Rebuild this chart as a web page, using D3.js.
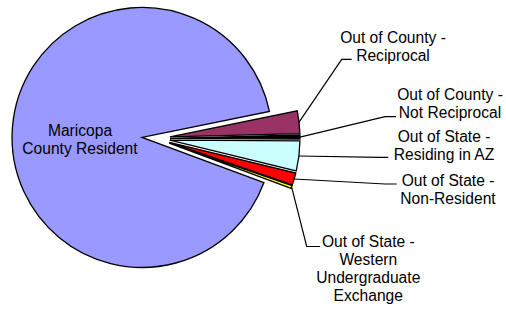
<!DOCTYPE html>
<meta charset="utf-8">
<style>
body{margin:0;background:#fff;}
.slice{stroke:#000;stroke-width:1.3px;}
.leader{fill:none;stroke:#000;stroke-width:1.2px;}
text{font-family:"Liberation Sans",Arial,sans-serif;font-size:15.6px;fill:#000;}
</style>
<body>
<script src="https://d3js.org/d3.v7.min.js"></script>
<script>

// share of enrolment, percent
var categories = [
  'Maricopa County Resident',
  'Out of County - Reciprocal',
  'Out of County - Not Reciprocal',
  'Out of State - Residing in AZ',
  'Out of State - Non-Resident',
  'Out of State - Western Undergraduate Exchange'
];
var values = [91.15, 2.8, 0.5, 3.7, 1.5, 0.35];
var colors = ['#9999FF', '#993366', '#000000', '#CCFFFF', '#FF0000', '#FFFF00'];

// label text lines
var labelLines = [
  ['Maricopa', 'County Resident'],
  ['Out of County -', 'Reciprocal'],
  ['Out of County -', 'Not Reciprocal'],
  ['Out of State -', 'Residing in AZ'],
  ['Out of State -', 'Non-Resident'],
  ['Out of State -', 'Western', 'Undergraduate', 'Exchange']
];

// layout: label centre x, first baseline, leader elbow and end (null = inside label)
var labelPos = [
  {x: 80,  y: 136,   elbow: null},
  {x: 393, y: 42.7,  elbow: [341.7, 59.3], end: [351.7, 59.3]},
  {x: 450, y: 100,   elbow: [385, 116.7],  end: [396, 116.7]},
  {x: 444, y: 142,   elbow: [380, 157.4],  end: [388.3, 157.4]},
  {x: 448, y: 186.3, elbow: [385, 184],    end: [396.7, 184]},
  {x: 368.3, y: 247.3, elbow: [306.7, 246.5], end: [320, 246.5]}
];

var W = 506, H = 309;
var cx = 156, cy = 138.5, R = 130, explode = 14, lineH = 17.8;

var svg = d3.select("body").append("svg").attr("width", W).attr("height", H);
var g = svg.append("g").attr("transform", "translate(" + cx + "," + cy + ")");

var a0 = 110.3 * Math.PI / 180;
var pie = d3.pie().sort(null).startAngle(a0).endAngle(a0 + 2 * Math.PI);
var arc = d3.arc().innerRadius(0).outerRadius(R);

var arcs = pie(values);

function offset(d, r) {
  var m = (d.startAngle + d.endAngle) / 2;
  return [r * Math.sin(m), -r * Math.cos(m)];
}

g.selectAll("path.slice")
  .data(arcs)
  .join("path")
  .attr("class", "slice")
  .attr("fill", (d, i) => colors[i])
  .attr("transform", d => { var o = offset(d, explode); return "translate(" + o[0] + "," + o[1] + ")"; })
  .attr("d", arc);

// leader lines
var line = d3.line();
svg.selectAll("path.leader")
  .data(arcs.filter((d, i) => labelPos[i].elbow))
  .join("path")
  .attr("class", "leader")
  .attr("d", d => {
    var i = d.index, p = labelPos[i];
    var o = offset(d, explode + R);
    return line([[cx + o[0], cy + o[1]], p.elbow, p.end]);
  });

// labels
var lbl = svg.selectAll("text.lbl")
  .data(labelLines)
  .join("text")
  .attr("class", "lbl")
  .attr("text-anchor", "middle");

lbl.selectAll("tspan")
  .data((d, i) => d.map((t, j) => ({t: t, i: i, j: j})))
  .join("tspan")
  .attr("x", d => labelPos[d.i].x)
  .attr("y", d => labelPos[d.i].y + d.j * lineH)
  .text(d => d.t);

</script>
</body>
</html>
